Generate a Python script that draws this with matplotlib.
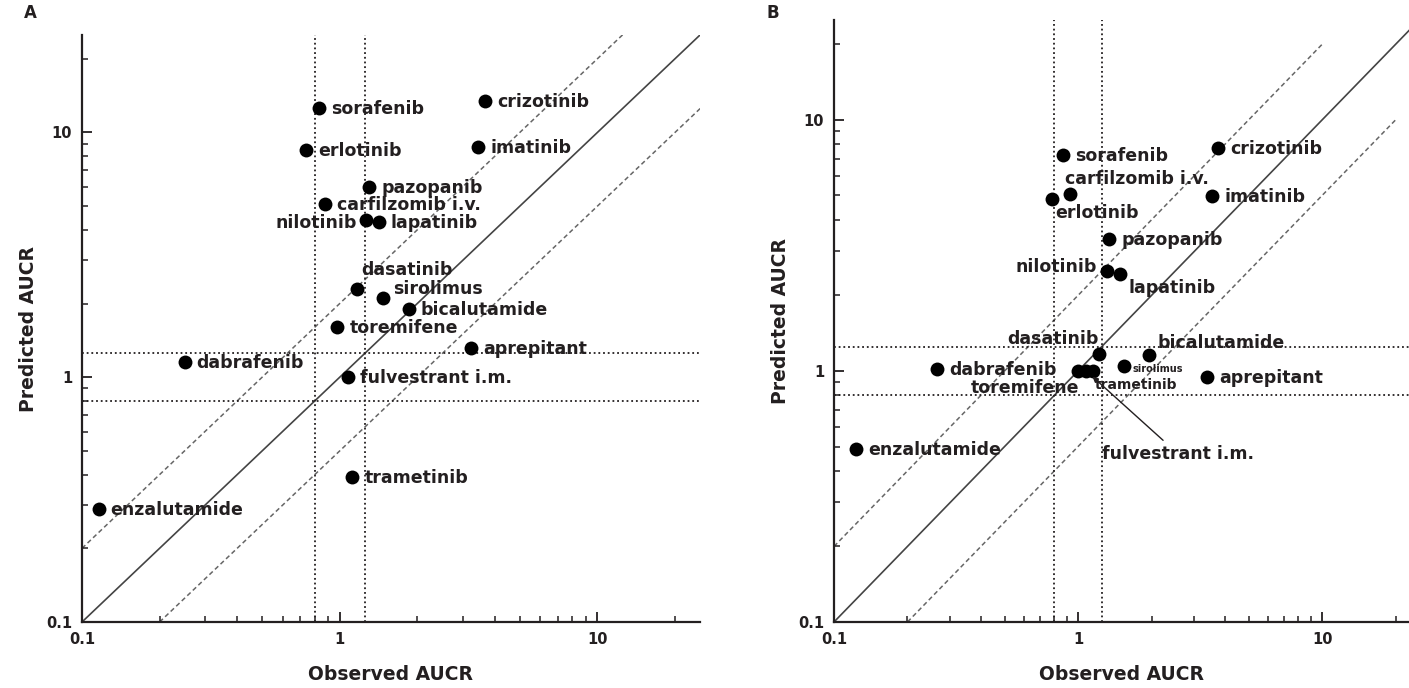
import numpy as np
import matplotlib.pyplot as plt
from matplotlib.ticker import LogLocator, NullFormatter

plt.rcParams['font.family'] = ['DejaVu Sans']
plt.rcParams['font.weight'] = 'bold'

# Painel A
drugs_a = ['sorafenib', 'crizotinib', 'erlotinib', 'imatinib', 'pazopanib',
           'carfilzomib i.v.', 'nilotinib', 'lapatinib', 'dasatinib', 'sirolimus',
           'bicalutamide', 'toremifene', 'aprepitant', 'dabrafenib',
           'fulvestrant i.m.', 'trametinib', 'enzalutamide']
obs_a = [0.83, 3.67, 0.74, 3.44, 1.30, 0.88, 1.27, 1.42, 1.17, 1.47,
         1.85, 0.98, 3.23, 0.25, 1.08, 1.12, 0.116]
pred_a = [12.6, 13.4, 8.5, 8.7, 5.97, 5.1, 4.37, 4.29, 2.3, 2.1,
          1.9, 1.6, 1.32, 1.15, 1.0, 0.39, 0.29]

# Painel B
drugs_b = ['sorafenib', 'crizotinib', 'carfilzomib i.v.', 'erlotinib', 'imatinib',
           'pazopanib', 'nilotinib', 'lapatinib', 'dasatinib', 'bicalutamide',
           'sirolimus', 'dabrafenib', 'toremifene', 'fulvestrant i.m.',
           'trametinib', 'aprepitant', 'enzalutamide']
obs_b = [0.87, 3.75, 0.93, 0.78, 3.54, 1.34, 1.31, 1.49, 1.22, 1.95,
         1.54, 0.264, 1.0, 1.08, 1.15, 3.38, 0.123]
pred_b = [7.25, 7.7, 5.07, 4.84, 4.98, 3.36, 2.5, 2.43, 1.17, 1.16,
          1.05, 1.02, 1.0, 1.0, 1.0, 0.95, 0.49]

# deslocamento dos rotulos (pixels) e alinhamento
off_a = {'nilotinib': (-10, -3, 'right'), 'dasatinib': (4, 19, 'left'),
         'sirolimus': (10, 9, 'left')}
off_b = {'carfilzomib i.v.': (-5, 15, 'left'), 'erlotinib': (4, -14, 'left'),
         'nilotinib': (-10, 4, 'right'), 'lapatinib': (8, -14, 'left'),
         'dasatinib': (-1, 15, 'right'), 'bicalutamide': (9, 12, 'left'),
         'sirolimus': (9, -3, 'left'), 'toremifene': (1, -17, 'right'),
         'trametinib': (2, -14, 'left')}
small_b = {'sirolimus': 7, 'trametinib': 10}

ink = '#231f20'
fig = plt.figure(figsize=(14.09, 6.88), dpi=100)
ax1 = fig.add_axes([82/1409, 66/688, 618/1409, 587/688])
ax2 = fig.add_axes([834/1409, 66/688, 575/1409, 602/688])


def painel(ax, drugs, obs, pred, offs, small, xmax, dash_end):
    ax.set_xscale('log')
    ax.set_yscale('log')
    ax.set_xlim(0.1, xmax)
    ax.set_ylim(0.1, 25)
    xx = np.array([0.1, 100])
    ax.plot(xx, xx, color='#444444', lw=1.2, zorder=1)
    xu = np.array([0.1, dash_end[0]])
    ax.plot(xu, 2 * xu, color='#666666', lw=1.1, ls=(0, (3, 2)), zorder=1)
    xl = np.array([0.2, dash_end[1]])
    ax.plot(xl, 0.5 * xl, color='#666666', lw=1.1, ls=(0, (3, 2)), zorder=1)
    for v in [0.8, 1.25]:
        ax.axhline(v, color=ink, lw=1.3, ls=(0, (1, 1.6)), zorder=1)
        ax.axvline(v, color=ink, lw=1.3, ls=(0, (1, 1.6)), zorder=1)
    ax.scatter(obs, pred, s=100, color='black', zorder=3, linewidths=0)
    for name, x, y in zip(drugs, obs, pred):
        dx, dy, ha = offs.get(name, (12, -1, 'left'))
        fs = small.get(name, 12.5)
        if name == 'fulvestrant i.m.' and ax is ax2:
            ax.annotate(name, (x, y), xytext=(16, -83), textcoords='offset pixels',
                        ha='left', va='center', fontsize=fs, color=ink,
                        fontweight='bold',
                        arrowprops=dict(arrowstyle='-|>', color=ink, lw=1,
                                        shrinkA=2, shrinkB=6,
                                        mutation_scale=8))
            continue
        ax.annotate(name, (x, y), xytext=(dx, dy), textcoords='offset pixels',
                    ha=ha, va='center', fontsize=fs, color=ink, fontweight='bold')
    for s in ['top', 'right']:
        ax.spines[s].set_visible(False)
    for s in ['left', 'bottom']:
        ax.spines[s].set_linewidth(1.6)
        ax.spines[s].set_color(ink)
    ax.set_xticks([0.1, 1, 10])
    ax.set_xticklabels(['0.1', '1', '10'])
    ax.set_yticks([0.1, 1, 10])
    ax.set_yticklabels(['0.1', '1', '10'])
    ax.xaxis.set_minor_locator(LogLocator(base=10, subs=np.arange(2, 10)))
    ax.yaxis.set_minor_locator(LogLocator(base=10, subs=np.arange(2, 10)))
    ax.xaxis.set_minor_formatter(NullFormatter())
    ax.yaxis.set_minor_formatter(NullFormatter())
    ax.tick_params(which='major', direction='in', length=7, width=1.3,
                   labelsize=10.5, colors=ink, pad=7)
    ax.tick_params(which='minor', direction='in', length=4, width=1.1, colors=ink)
    ax.set_xlabel('Observed AUCR', fontsize=13.5, fontweight='bold', color=ink,
                  labelpad=13)
    ax.set_ylabel('Predicted AUCR', fontsize=13.5, fontweight='bold', color=ink,
                  labelpad=6)


painel(ax1, drugs_a, obs_a, pred_a, off_a, {}, 25, (100, 100))
painel(ax2, drugs_b, obs_b, pred_b, off_b, small_b, 22.7, (10, 20))

fig.text(24/1409, 1 - 13/688, 'A', fontsize=12, fontweight='bold', color=ink,
         va='center')
fig.text(766/1409, 1 - 13/688, 'B', fontsize=12, fontweight='bold', color=ink,
         va='center')

fig.savefig('out.png', dpi=100)
